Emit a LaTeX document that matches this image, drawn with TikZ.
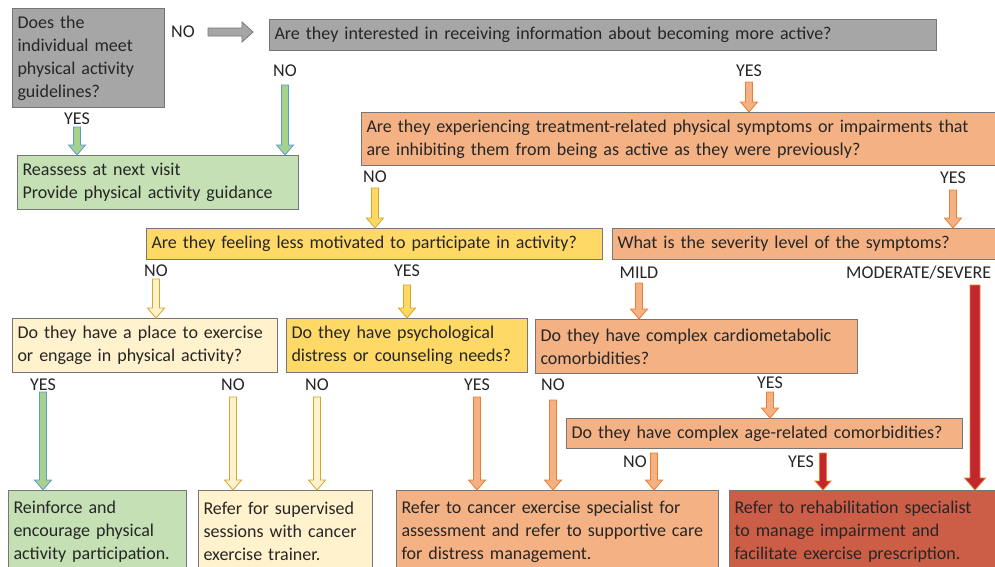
\documentclass[tikz,border=0pt]{standalone}
\usepackage{fontspec}
\setmainfont{Carlito}
\usetikzlibrary{positioning}
\usetikzlibrary{calc}

\definecolor{txt}{HTML}{262626}
\definecolor{boxline}{HTML}{767676}
\definecolor{greyfill}{HTML}{A6A6A6}
\definecolor{greenfill}{HTML}{C5E0B4}
\definecolor{greenarrow}{HTML}{A9D18E}
\definecolor{bluerim}{HTML}{5B9BD5}
\definecolor{palefill}{HTML}{FFF2CC}
\definecolor{goldfill}{HTML}{FFD966}
\definecolor{goldrim}{HTML}{D4A72C}
\definecolor{orangefill}{HTML}{F4B183}
\definecolor{orangerim}{HTML}{ED7D31}
\definecolor{redfill}{HTML}{CC5E48}
\definecolor{redarrow}{HTML}{C1272D}

\newcommand{\flowfont}{\fontsize{18}{23}\selectfont\hyphenpenalty=10000}

\tikzset{
  box/.style={draw=boxline, line width=1pt, anchor=north west, align=left,
    inner xsep=5pt, inner ysep=2pt, text=txt, font=\flowfont},
  lbl/.style={text=txt, font=\flowfont, inner sep=1pt},
  shaftw/.store in=\shaftw, shaftw=3.5pt,
  headw/.store in=\headw, headw=8.5pt,
  headl/.store in=\headl, headl=10pt,
  blockarrow/.style={line width=0.8pt},
  greenarr/.style={blockarrow, fill=greenarrow, draw=bluerim},
  palearr/.style={blockarrow, fill=palefill, draw=goldrim},
  goldarr/.style={blockarrow, fill=goldfill, draw=goldrim},
  orangearr/.style={blockarrow, fill=orangefill, draw=orangerim},
  redarr/.style={blockarrow, fill=redarrow, draw=orangerim},
  greyarr/.style={blockarrow, fill=greyfill, draw=boxline},
}

% block arrow pointing down from #2 to the top of node #3
\newcommand{\vblock}[3]{%
  \path[#1] let \p1=#2, \p2=(#3.north) in
    (\x1-\shaftw,\y1) -- (\x1+\shaftw,\y1) -- (\x1+\shaftw,\y2+\headl)
    -- (\x1+\headw,\y2+\headl) -- (\x1,\y2) -- (\x1-\headw,\y2+\headl)
    -- (\x1-\shaftw,\y2+\headl) -- cycle;}

\begin{document}
\begin{tikzpicture}[x=1pt,y=-1pt]
\clip (0,0) rectangle (995,566);
\fill[white] (0,0) rectangle (995,566);%page

%questions
\node[box, fill=greyfill, text width=142pt, minimum height=99pt] (meet) at (12,8)
  {Does the\\individual meet\\physical activity\\guidelines?};
\node[box, fill=greyfill, text width=657pt, minimum height=31pt] (info) at (269,19)
  {Are they interested in receiving information about becoming more active?};
\node[box, fill=greenfill, text width=271pt, minimum height=54pt] (reassess) at (17,155)
  {Reassess at next visit\\Provide physical activity guidance};
\node[box, fill=orangefill, text width=629pt, minimum height=53pt] (symptoms) at (361,112)
  {Are they experiencing treatment-related physical symptoms or impairments that\\are inhibiting them from being as active as they were previously?};
\node[box, fill=goldfill, text width=446pt, minimum height=31pt] (motiv) at (146,228)
  {Are they feeling less motivated to participate in activity?};
\node[box, fill=orangefill, text width=378pt, minimum height=31pt] (severity) at (612,228)
  {What is the severity level of the symptoms?};
\node[box, fill=palefill, text width=255pt, minimum height=54pt] (place) at (12,318)
  {Do they have a place to exercise\\or engage in physical activity?};
\node[box, fill=goldfill, text width=231pt, minimum height=54pt] (distress) at (286,318)
  {Do they have psychological\\distress or counseling needs?};
\node[box, fill=orangefill, text width=312pt, minimum height=54pt] (cardio) at (535,319)
  {Do they have complex cardiometabolic\\comorbidities?};
\node[box, fill=orangefill, text width=386pt, minimum height=30pt] (agerel) at (566,418)
  {Do they have complex age-related comorbidities?};

%outcomes
\node[box, fill=greenfill, text width=168pt, minimum height=82pt] (reinforce) at (8,490)
  {Reinforce and\\encourage physical\\activity participation.};
\node[box, fill=palefill, text width=164pt, minimum height=82pt] (supervised) at (198,490)
  {Refer for supervised\\sessions with cancer\\exercise trainer.};
\node[box, fill=orangefill, text width=312pt, minimum height=82pt] (specialist) at (396,490)
  {Refer to cancer exercise specialist for\\assessment and refer to supportive care\\for distress management.};
\node[box, fill=redfill, text width=264pt, minimum height=82pt] (rehab) at (729,490)
  {Refer to rehabilitation specialist\\to manage impairment and\\facilitate exercise prescription.};

%labels
\node[lbl] (noinfo) at (183,32) {NO};
\node[lbl] (yesmeet) at (77,119) {YES};
\node[lbl] (noreas) at (285,71) {NO};
\node[lbl] (yesinfo) at (749,71) {YES};
\node[lbl] (nosympt) at (375,177) {NO};
\node[lbl] (yessympt) at (953,178) {YES};
\node[lbl] (nomotiv) at (156,271) {NO};
\node[lbl] (yesmotiv) at (407,271) {YES};
\node[lbl] (mild) at (639,273) {MILD};
\node[lbl, anchor=west] (severe) at (845,273) {MODERATE/SEVERE};
\node[lbl] (yesplace) at (43,385) {YES};
\node[lbl] (noplace) at (233,385) {NO};
\node[lbl] (nodistr) at (317,385) {NO};
\node[lbl] (yesdistr) at (477,385) {YES};
\node[lbl] (nocardio) at (553,385) {NO};
\node[lbl] (yescardio) at (770,383) {YES};
\node[lbl] (noage) at (635,462) {NO};
\node[lbl] (yesage) at (801,462) {YES};

%arrows
\path[greyarr] let \p1=([xshift=25pt]noinfo.center), \p2=([xshift=-16pt]info.west) in
  (\x1,\y1+4pt) -- (\x2-11pt,\y1+4pt) -- (\x2-11pt,\y1+10pt) -- (\x2,\y1)
  -- (\x2-11pt,\y1-10pt) -- (\x2-11pt,\y1-4pt) -- (\x1,\y1-4pt) -- cycle;
\vblock{greenarr}{([yshift=-8pt]yesmeet.center)}{reassess}
\vblock{greenarr}{([yshift=-14pt]noreas.center)}{reassess}
\vblock{orangearr}{([yshift=-11pt]yesinfo.center)}{symptoms}
\vblock{goldarr}{([yshift=-11pt]nosympt.center)}{motiv}
\vblock{orangearr}{([yshift=-12pt]yessympt.center)}{severity}
\vblock{palearr}{([yshift=-8pt]nomotiv.center)}{place}
\vblock{goldarr}{([yshift=-14pt]yesmotiv.center)}{distress}
\vblock{orangearr}{([yshift=-10pt]mild.center)}{cardio}
\vblock{redarr, shaftw=5pt, headw=10.5pt, headl=12pt}{([xshift=130pt,yshift=-12pt]severe.west)}{rehab}
\vblock{greenarr}{([yshift=-7pt]yesplace.center)}{reinforce}
\vblock{palearr}{([yshift=-12pt]noplace.center)}{supervised}
\vblock{palearr}{([yshift=-12pt]nodistr.center)}{supervised}
\vblock{orangearr}{([yshift=-12pt]yesdistr.center)}{specialist}
\vblock{orangearr}{([yshift=-15pt]nocardio.center)}{specialist}
\vblock{orangearr}{([yshift=-9pt]yescardio.center)}{agerel}
\vblock{orangearr}{([xshift=19pt,yshift=9pt]noage.center)}{specialist}
\vblock{redarr, headw=8pt, headl=9pt}{([xshift=22pt,yshift=9pt]yesage.center)}{rehab}
\end{tikzpicture}
\end{document}
